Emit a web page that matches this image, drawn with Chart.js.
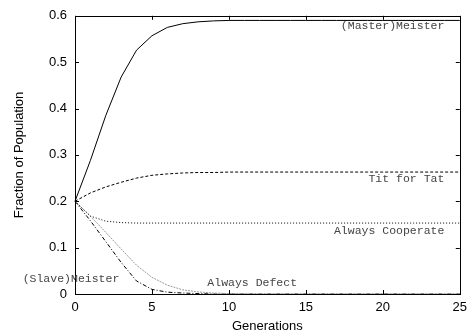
<!DOCTYPE html>
<html>
<head>
<meta charset="utf-8">
<script src="https://cdn.jsdelivr.net/npm/chart.js@4/dist/chart.umd.min.js"></script>
<style>
  html, body { margin: 0; padding: 0; background: #fff; }
  #wrap { width: 473px; height: 336px; }
</style>
</head>
<body>
<div id="wrap"><canvas id="chart" width="473" height="336"></canvas></div>
<script>
const generations = [0,1,2,3,4,5,6,7,8,9,10,11,12,13,14,15,16,17,18,19,20,21,22,23,24,25]

const masterMeister = [0.2,0.288,0.385,0.468,0.526,0.557,0.575,0.583,0.587,0.589,0.590,0.590,0.590,0.590,0.590,0.590,0.590,0.590,0.590,0.590,0.590,0.590,0.590,0.590,0.590,0.590]
const titForTat = [0.2,0.218,0.231,0.241,0.250,0.256,0.259,0.261,0.262,0.262,0.263,0.263,0.263,0.263,0.263,0.263,0.263,0.263,0.263,0.263,0.263,0.263,0.263,0.263,0.263,0.263]
const alwaysCooperate = [0.2,0.168,0.157,0.154,0.153,0.153,0.153,0.153,0.153,0.153,0.153,0.153,0.153,0.153,0.153,0.153,0.153,0.153,0.153,0.153,0.153,0.153,0.153,0.153,0.153,0.153]
const alwaysDefect = [0.2,0.168,0.133,0.097,0.062,0.036,0.019,0.009,0.0045,0.002,0.001,0.0005,0,0,0,0,0,0,0,0,0,0,0,0,0,0]
const slaveMeister = [0.2,0.158,0.113,0.068,0.028,0.010,0.004,0.002,0.001,0,0,0,0,0,0,0,0,0,0,0,0,0,0,0,0,0]

const xTicks = [0,5,10,15,20,25]
const yTicks = [0,0.1,0.2,0.3,0.4,0.5,0.6]

// curve labels: text, anchor in data units, alignment
const curveLabels = [
    { text: "(Master)Meister", x: 24, y: 0.578, align: "right" },
    { text: "Tit for Tat", x: 24, y: 0.249, align: "right" },
    { text: "Always Cooperate", x: 24, y: 0.136, align: "right" },
    { text: "Always Defect", x: 8.6, y: 0.024, align: "left" },
    { text: "(Slave)Meister", x: -3.4, y: 0.032, align: "left" }
]

const pts = arr => arr.map((v, i) => ({ x: generations[i], y: v }))

const framePlugin = {
    id: "frame",
    afterDraw(chart) {
        const c = chart.ctx
        const a = chart.chartArea
        const xs = chart.scales.x
        const ys = chart.scales.y
        c.save()
        c.strokeStyle = "#000"
        c.lineWidth = 1
        c.strokeRect(Math.round(a.left) + 0.5, Math.round(a.top) + 0.5,
            Math.round(a.right - a.left), Math.round(a.bottom - a.top))
        c.beginPath()
        xTicks.forEach(t => {
            const px = Math.round(xs.getPixelForValue(t)) + 0.5
            c.moveTo(px, a.bottom); c.lineTo(px, a.bottom - 4)
            c.moveTo(px, a.top); c.lineTo(px, a.top + 4)
        })
        yTicks.forEach(t => {
            const py = Math.round(ys.getPixelForValue(t)) + 0.5
            c.moveTo(a.left, py); c.lineTo(a.left + 4, py)
            c.moveTo(a.right, py); c.lineTo(a.right - 4, py)
        })
        c.stroke()

        c.font = "11.5px 'Liberation Mono', monospace"
        c.fillStyle = "#444"
        c.textBaseline = "middle"
        curveLabels.forEach(l => {
            c.textAlign = l.align
            c.fillText(l.text, xs.getPixelForValue(l.x), ys.getPixelForValue(l.y))
        })
        c.restore()
    }
}

const line = (label, data, color, dash) => ({
    label: label,
    data: pts(data),
    borderColor: color,
    borderWidth: 1,
    borderDash: dash,
    pointRadius: 0,
    tension: 0,
    fill: false
})

new Chart(document.getElementById("chart").getContext("2d"), {
    type: "line",
    data: {
        datasets: [
            line("(Master)Meister", masterMeister, "#000", []),
            line("Tit for Tat", titForTat, "#000", [3, 2]),
            line("Always Cooperate", alwaysCooperate, "#000", [1, 2]),
            line("Always Defect", alwaysDefect, "#999", [2, 1]),
            line("(Slave)Meister", slaveMeister, "#000", [4, 2, 1, 2])
        ]
    },
    plugins: [framePlugin],
    options: {
        responsive: false,
        animation: false,
        clip: false,
        layout: { padding: { left: 0, right: 9, top: 15, bottom: 0 } },
        plugins: { legend: { display: false }, tooltip: { enabled: false } },
        scales: {
            x: {
                type: "linear",
                min: 0,
                max: 25,
                afterFit(s) { s.height = 42 },
                afterBuildTicks(s) { s.ticks = xTicks.map(v => ({ value: v })) },
                grid: { display: false, drawTicks: false },
                border: { display: false },
                ticks: { color: "#000", padding: 6, font: { family: "'Liberation Sans', Arial", size: 13 } },
                title: {
                    display: true,
                    text: "Generations",
                    color: "#000",
                    padding: { top: 0, bottom: 2 },
                    font: { family: "'Liberation Sans', Arial", size: 13 }
                }
            },
            y: {
                min: 0,
                max: 0.6,
                afterFit(s) { s.width = 75 },
                afterBuildTicks(s) { s.ticks = yTicks.map(v => ({ value: v })) },
                grid: { display: false, drawTicks: false },
                border: { display: false },
                ticks: { color: "#000", padding: 8, font: { family: "'Liberation Sans', Arial", size: 13 } },
                title: {
                    display: true,
                    text: "Fraction of Population",
                    color: "#000",
                    padding: { top: 12, bottom: 0 },
                    font: { family: "'Liberation Sans', Arial", size: 13 }
                }
            }
        }
    }
})
</script>
</body>
</html>
